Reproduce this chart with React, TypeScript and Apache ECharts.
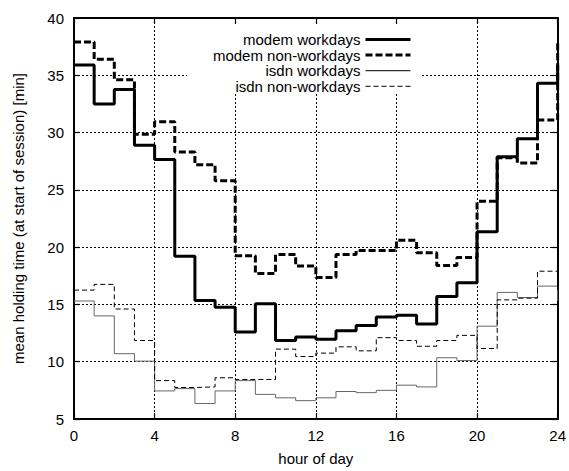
import React, { useEffect, useRef } from "react";
import * as echarts from "echarts";

const hours = [0, 1, 2, 3, 4, 5, 6, 7, 8, 9, 10, 11, 12, 13, 14, 15, 16, 17, 18, 19, 20, 21, 22, 23, 24];

const seriesNames = ["modem workdays", "modem non-workdays", "isdn workdays", "isdn non-workdays"];

const modemWorkdays = [35.9, 32.5, 33.75, 28.9, 27.65, 19.2, 15.35, 14.75, 12.6, 15.05, 11.85, 12.15, 11.95, 12.7, 13.15, 13.9, 14.05, 13.3, 15.7, 16.9, 21.35, 27.9, 29.45, 34.3, 35.9];
const modemNonWorkdays = [37.9, 36.4, 34.6, 29.85, 30.95, 28.3, 27.2, 25.8, 19.25, 17.7, 19.35, 18.35, 17.35, 19.35, 19.7, 19.7, 20.6, 19.5, 18.4, 19.1, 24.0, 27.8, 27.35, 31.1, 37.9];
const isdnWorkdays = [15.3, 14.0, 10.7, 10.05, 7.45, 7.65, 6.35, 7.45, 8.35, 7.15, 6.85, 6.6, 6.85, 7.4, 7.3, 7.5, 7.95, 7.8, 10.35, 10.1, 13.1, 16.05, 15.6, 16.6, 15.3];
const isdnNonWorkdays = [16.25, 16.75, 14.6, 11.85, 8.35, 7.75, 7.8, 8.6, 8.45, 8.45, 11.1, 10.45, 10.75, 11.3, 10.95, 12.1, 11.85, 11.35, 11.85, 12.3, 11.15, 15.4, 15.55, 17.9, 16.25];

const xTicks = { min: 0, max: 24, interval: 4 };
const yTicks = { min: 5, max: 40, interval: 5 };

const FONT = "Liberation Sans, Arial, Helvetica, sans-serif";

export default function App() {
  const ref = useRef<HTMLDivElement>(null);
  useEffect(() => {
    if (!ref.current) return;
    const chart = echarts.init(ref.current, undefined, { renderer: "svg" });
    const pair = (vals: number[]) => hours.map((h, i) => [h, vals[i]]);
    const baseAxisLine = { show: true, onZero: false, lineStyle: { color: "#000", width: 2 } };
    const tick = { show: true, inside: true, length: 6, lineStyle: { color: "#000", width: 1.2 } };
    const grid = { show: true, lineStyle: { color: "#000", width: 1, type: [2, 2] } };
    const styles = [
      { color: "#000", width: 3, type: "solid" },
      { color: "#000", width: 3, type: [7, 3] },
      { color: "#666", width: 1, type: "solid" },
      { color: "#000", width: 1, type: [5, 3] },
    ];
    const datas = [modemWorkdays, modemNonWorkdays, isdnWorkdays, isdnNonWorkdays];
    chart.setOption({
      animation: false,
      backgroundColor: "#fff",
      textStyle: { fontFamily: FONT },
      grid: { left: 74, right: 7, top: 18, bottom: 46, containLabel: false },
      xAxis: [
        {
          type: "value",
          ...xTicks,
          position: "bottom",
          axisLine: baseAxisLine,
          axisTick: tick,
          splitLine: grid,
          axisLabel: { color: "#000", fontSize: 15, margin: 9, fontFamily: FONT },
          name: "hour of day",
          nameLocation: "middle",
          nameGap: 32,
          nameTextStyle: { color: "#000", fontSize: 15, fontFamily: FONT },
        },
        {
          type: "value",
          ...xTicks,
          position: "top",
          axisLine: baseAxisLine,
          axisTick: tick,
          splitLine: { show: false },
          axisLabel: { show: false },
        },
      ],
      yAxis: [
        {
          type: "value",
          ...yTicks,
          position: "left",
          axisLine: baseAxisLine,
          axisTick: tick,
          splitLine: grid,
          axisLabel: { color: "#000", fontSize: 15, margin: 10, fontFamily: FONT },
          name: "mean holding time (at start of session) [min]",
          nameLocation: "middle",
          nameGap: 48,
          nameTextStyle: { color: "#000", fontSize: 15, fontFamily: FONT },
        },
        {
          type: "value",
          ...yTicks,
          position: "right",
          axisLine: baseAxisLine,
          axisTick: tick,
          splitLine: { show: false },
          axisLabel: { show: false },
        },
      ],
      legend: {
        orient: "vertical",
        align: "right",
        right: 157,
        top: 32,
        padding: 0,
        itemWidth: 45,
        itemHeight: 12,
        itemGap: 0.6,
        selectedMode: false,
        itemStyle: { opacity: 0 },
        textStyle: { color: "#000", fontSize: 15, lineHeight: 15, fontFamily: FONT },
        data: seriesNames.map((n, i) => ({
          name: n,
          lineStyle: { width: styles[i].width, color: "#000" },
          itemStyle: { opacity: 0 },
        })),
      },
      graphic: [
        {
          type: "rect",
          z: 1,
          silent: true,
          shape: { x: 187, y: 25, width: 233, height: 68 },
          style: { fill: "#fff" },
        },
      ],
      series: seriesNames.map((n, i) => ({
        name: n,
        type: "line",
        step: "end",
        symbol: "none",
        showSymbol: false,
        clip: false,
        z: 3 + i,
        lineStyle: styles[i],
        itemStyle: { color: styles[i].color },
        data: pair(datas[i]),
      })),
    });
    return () => chart.dispose();
  }, []);
  return (
    <div
      ref={ref}
      style={{ position: "fixed", left: 0, top: 0, width: 569, height: 471, background: "#fff" }}
    />
  );
}
